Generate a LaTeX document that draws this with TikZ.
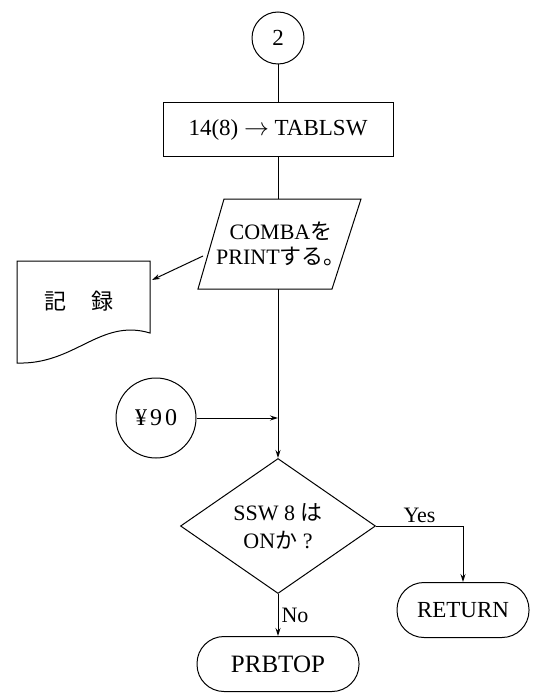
\documentclass[tikz,border=0pt]{standalone}
\usepackage{fontspec}
\setmainfont{Liberation Serif}
\newfontfamily\jp{Noto Sans CJK JP}
\usetikzlibrary{arrows.meta,shapes.geometric}
\tikzset{
  base/.style={font=\fontsize{23}{25}\selectfont, align=center, inner sep=0pt},
  big/.style={font=\fontsize{24}{27}\selectfont},
  proc/.style={base, draw, minimum width=230pt, minimum height=54pt},
  conn/.style={base, draw, circle},
  term/.style={base, draw, rectangle, rounded corners=27pt, minimum height=55pt},
  dec/.style={base, draw, diamond, aspect=1.44, minimum width=195pt, minimum height=135pt},
  arr/.style={-{Stealth[length=8pt,width=5pt]}},
  lbl/.style={font=\fontsize{22}{24}\selectfont, inner sep=3pt}
}
\begin{document}
\begin{tikzpicture}[x=1pt,y=-1pt,line width=1pt]
\useasboundingbox (0,0) rectangle (532,695);

% connector 2
\node[conn, minimum size=52pt] (c2) at (278,38) {2};
% process box
\node[proc] (b1) at (278,130) {14(8) $\to$ TABLSW};
% input/output parallelogram
\coordinate (p1) at (198,289);
\coordinate (p2) at (332,289);
\coordinate (p3) at (361,199);
\coordinate (p4) at (224,199);
\draw (p1) -- (p2) -- (p3) -- (p4) -- cycle;
\node[base, font=\fontsize{22}{25}\selectfont] (io) at (281,244) {COMBA{\jp を}\\PRINT{\jp する。}};
\coordinate (ptop) at (278,199);
\coordinate (pbot) at (278,289);
\coordinate (pleft) at (203,256);

% document
\draw (17,261) -- (150,261) -- (150,333)
  .. controls (100,318) and (75,365) .. (17,363) -- cycle;
\node[base, font=\fontsize{22}{25}\selectfont] (rec) at (79,301) {\jp 記\hspace{26pt}録};
\coordinate (docr) at (152,280);

% connector Yen 90
\node[conn, big, minimum size=80pt] (y90) at (156,418) {¥\hspace{3pt}9\hspace{3pt}0};

% decision
\node[dec, font=\fontsize{22}{25}\selectfont] (d) at (278,526) {SSW 8 {\jp は}\\[3pt]ON{\jp か} ?};

% terminals
\node[term, minimum width=132pt] (ret) at (463,610) {RETURN};
\node[term, font=\fontsize{25}{28}\selectfont, minimum width=162pt] (prb) at (278,664) {PRBTOP};

% connectors
\draw (c2) -- (b1);
\draw (b1.south) -- (ptop);
\draw[arr] (pleft) -- (docr);
\draw[arr] (pbot) -- (d.north);
\draw[arr] (y90) -- (y90 -| d.north);
\draw[arr] (d.east) -| node[lbl, pos=0.25, above] {Yes} (ret.north);
\draw[arr] (d.south) -- node[lbl, right] {No} (prb.north);
\end{tikzpicture}
\end{document}
